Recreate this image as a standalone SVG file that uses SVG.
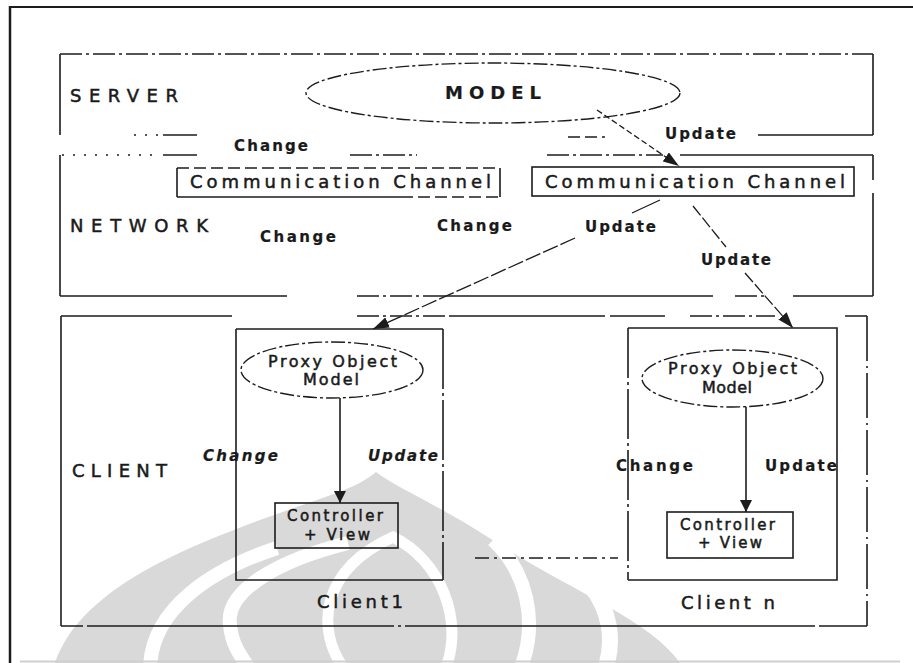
<svg xmlns="http://www.w3.org/2000/svg" width="913" height="663" viewBox="0 0 913 663">
<defs>
<style>
.ln{fill:none;stroke:#1c1c1c;stroke-width:1.6}
.dd{stroke-dasharray:22 4 3 4}
.dt{stroke-dasharray:2 9}
.ds{stroke-dasharray:12 5}
.el{fill:none;stroke:#1c1c1c;stroke-width:1.4;stroke-dasharray:14 3 3 3}
.ar{fill:none;stroke:#1c1c1c;stroke-width:1.3}
.wm{fill:#d9d9d9}
.wb{fill:none;stroke:#ffffff}
text{font-family:"DejaVu Sans","Liberation Sans",Arial,sans-serif;fill:#1a1a1a;stroke:#1a1a1a;stroke-width:0.5}
.lab{font-size:18px}
.sm{font-size:15px}
.px{font-size:16px}
.b{font-weight:bold;stroke-width:0.2}
.i{font-style:italic}
</style>
<marker id="ah" viewBox="0 0 16 11" refX="16" refY="5.5" markerWidth="16" markerHeight="11" markerUnits="userSpaceOnUse" orient="auto">
<path d="M0,0 L16,5.5 L0,11 z" fill="#1c1c1c"/>
</marker>
<marker id="av" viewBox="0 0 13 14" refX="13" refY="6.5" markerWidth="13" markerHeight="13" markerUnits="userSpaceOnUse" orient="auto">
<path d="M0,0 L13,6.5 L0,13 z" fill="#1c1c1c"/>
</marker>
</defs>
<rect width="913" height="663" fill="#ffffff"/>

<g id="watermark">
<path class="wm" d="M55 663 C80 590 180 550 260 520 C320 498 355 490 376 472 C400 490 440 505 500 545 C570 590 650 620 680 663 Z"/>
<path class="wb" stroke-width="14" d="M277 548 C210 570 150 610 150 670"/>
<path class="wb" stroke-width="14" d="M348 543 C280 560 225 590 230 625 C232 645 240 655 250 670"/>
<path class="wb" stroke-width="11" d="M345 670 C315 630 320 570 393 537 C440 560 465 620 445 670"/>
<path class="wb" stroke-width="14" d="M493 540 C525 570 540 620 520 670"/>
<path class="wb" stroke-width="16" d="M590 585 C610 610 615 640 605 670"/>
<line x1="20" y1="661.5" x2="900" y2="661.5" stroke="#cfcfcf" stroke-width="2"/>
</g>

<g id="frame">
<line x1="10" y1="6" x2="10" y2="663" stroke="#1c1c1c" stroke-width="2.5"/>
<line x1="10" y1="7" x2="913" y2="7" stroke="#1c1c1c" stroke-width="2"/>
</g>

<g id="server">
<path class="ln dd" d="M60 54 H873"/>
<path class="ln" d="M60 54 V135 M873 54 V135"/>
<path class="ln dt" d="M134 135 H158"/>
<path class="ln" d="M163 135 H197 M758 135 H873"/>
<path class="ln ds" d="M568 137 H605"/>
<text class="lab" x="70" y="102" textLength="108" lengthAdjust="spacing">SERVER</text>
</g>

<g id="model">
<ellipse class="el" cx="493" cy="93" rx="187" ry="30"/>
<text class="lab b" x="445" y="99" textLength="96" lengthAdjust="spacing">MODEL</text>
</g>

<g id="network">
<path class="ln dt" d="M62 155 H160"/>
<path class="ln" d="M163 155 H197 M680 155 H873"/>
<path class="ln dd" d="M350 155 H417 M547 155 H663"/>
<path class="ln" d="M60 155 V296 M873 155 V180 M873 193 V296"/>
<path class="ln" d="M60 296 H287 M440 296 H713 M812 296 H873"/>
<path class="ln dd" d="M357 296 H440 M735 296 H765 M793 296 H812"/>
<text class="lab" x="70" y="232" font-size="17" textLength="138" lengthAdjust="spacing">NETWORK</text>
</g>

<g id="channel1">
<path class="ln ds" d="M177 168 H500"/>
<path class="ln" d="M177 168 V197 M500 168 V197 M177 197 H413"/>
<path class="ln ds" d="M418 197 H500"/>
<text class="lab" x="190" y="188" textLength="301" lengthAdjust="spacing">Communication Channel</text>
</g>

<g id="channel2">
<rect class="ln" x="532" y="167" width="322" height="29"/>
<text class="lab" x="545" y="188" textLength="300" lengthAdjust="spacing">Communication Channel</text>
</g>

<g id="client">
<path class="ln" d="M61 316 H232 M450 316 H605 M610 316 H665"/>
<path class="ln dd" d="M357 316 H450 M690 316 H775 M845 316 H867"/>
<path class="ln" d="M61 316 V626"/>
<path class="ln" stroke-dasharray="45 5 2 5" d="M867 316 V626"/>
<path class="ln" d="M90 626 H372 M420 626 H793 M820 626 H867"/>
<path class="ln dd" d="M61 626 H90 M372 626 H420 M793 626 H820"/>
<text class="lab" x="72" y="477" font-size="17" textLength="95" lengthAdjust="spacing">CLIENT</text>
</g>

<g id="client1">
<path class="ln" d="M236 329 H443 M236 329 V580 H443"/>
<path class="ln" stroke-dasharray="60 4 3 4" d="M443 329 V580"/>
<text class="lab" x="317" y="608" font-size="17" textLength="86" lengthAdjust="spacing">Client1</text>
</g>

<g id="proxy1">
<ellipse class="el" cx="332" cy="370" rx="91" ry="28"/>
<text class="px" x="268" y="367" textLength="129" lengthAdjust="spacing">Proxy Object</text>
<text class="px" x="303" y="385" textLength="56" lengthAdjust="spacing">Model</text>
</g>

<g id="view1">
<rect class="ln" x="275" y="503" width="123" height="45"/>
<text class="sm" x="287" y="521" textLength="96" lengthAdjust="spacing">Controller</text>
<text class="sm" x="304" y="540" textLength="66" lengthAdjust="spacing">+ View</text>
</g>

<g id="clientn">
<path class="ln" d="M628 328 H837 V580 H628"/>
<path class="ln" stroke-dasharray="50 4 3 4" d="M628 328 V580"/>
<text class="lab" x="681" y="609" font-size="17" textLength="94" lengthAdjust="spacing">Client n</text>
</g>

<g id="proxyn">
<ellipse class="el" cx="732.5" cy="378.5" rx="90.5" ry="28.5"/>
<text class="px" x="668" y="374" textLength="129" lengthAdjust="spacing">Proxy Object</text>
<text class="px" x="702" y="393" textLength="50" lengthAdjust="spacing">Model</text>
</g>

<g id="viewn">
<rect class="ln" x="667" y="512" width="126" height="46"/>
<text class="sm" x="680" y="530" textLength="95" lengthAdjust="spacing">Controller</text>
<text class="sm" x="698" y="548" textLength="64" lengthAdjust="spacing">+ View</text>
</g>

<g id="connectors">
<path class="ar" stroke-dasharray="6 3" d="M597 110 L679 166" marker-end="url(#ah)"/>
<path class="ar" d="M660 200 L632 213"/>
<path class="ar" stroke-dasharray="16 3" d="M575 238 L373 329" marker-end="url(#ah)"/>
<path class="ar" stroke-dasharray="12 3" d="M693 206 L726 247"/>
<path class="ar" stroke-dasharray="12 3" d="M745 273 L793 328" marker-end="url(#ah)"/>
<path class="ln" stroke-width="1.8" d="M340 398 V503" marker-end="url(#av)"/>
<path class="ln" stroke-width="1.8" d="M746 407 V512" marker-end="url(#av)"/>
<path class="ln" stroke-dasharray="14 5 3 5" d="M475 558 H618"/>
</g>

<g id="labels">
<text class="sm b" x="234" y="151" textLength="74" lengthAdjust="spacing">Change</text>
<text class="sm b" x="665" y="139" textLength="71" lengthAdjust="spacing">Update</text>
<text class="sm b" x="260" y="242" textLength="76" lengthAdjust="spacing">Change</text>
<text class="sm b" x="437" y="231" textLength="75" lengthAdjust="spacing">Change</text>
<text class="sm b" x="585" y="232" textLength="71" lengthAdjust="spacing">Update</text>
<text class="sm b" x="701" y="265" textLength="70" lengthAdjust="spacing">Update</text>
<text class="sm b i" x="203" y="461" textLength="75" lengthAdjust="spacing">Change</text>
<text class="sm b i" x="368" y="461" textLength="70" lengthAdjust="spacing">Update</text>
<text class="sm b" x="616" y="471" textLength="77" lengthAdjust="spacing">Change</text>
<text class="sm b" x="765" y="471" textLength="72" lengthAdjust="spacing">Update</text>
</g>
</svg>
